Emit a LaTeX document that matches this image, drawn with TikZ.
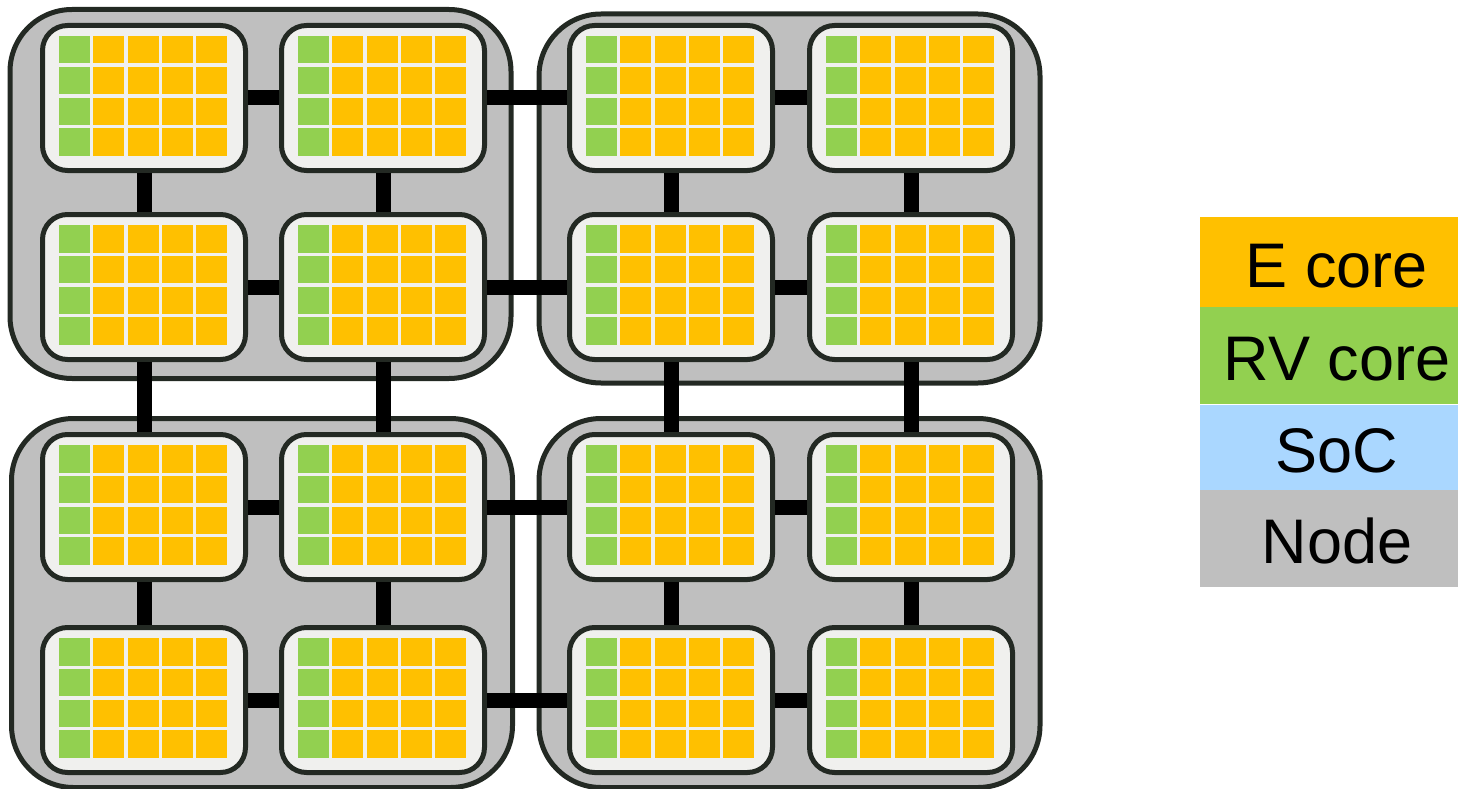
\documentclass[tikz,border=0pt]{standalone}
\usepackage{fontspec}
\setmainfont{Liberation Sans}
\definecolor{ECore}{RGB}{255,192,0}
\definecolor{RVCore}{RGB}{146,208,80}
\definecolor{SoCBlue}{RGB}{170,215,255}
\definecolor{NodeGray}{RGB}{191,191,191}
\definecolor{ChipFill}{RGB}{240,240,238}
\definecolor{EdgeDark}{RGB}{35,41,35}
\usetikzlibrary{positioning}

\begin{document}
\begin{tikzpicture}[x=1pt, y=-1pt,
    nodebox/.style={draw=EdgeDark, fill=NodeGray, line width=5pt, rounded corners=62pt, minimum width=501pt, minimum height=369pt, inner sep=0pt},
    chipbox/.style={draw=EdgeDark, fill=ChipFill, line width=5pt, rounded corners=25pt, minimum width=203pt, minimum height=145pt, inner sep=0pt},
    link/.style={line width=15pt, black},
    legendbox/.style={minimum width=274pt, inner sep=0pt, text height=50pt, text depth=0pt, font=\fontsize{63}{70}\selectfont}]
  \clip (0,0) rectangle (1458,789);
  % nodes
  \node[nodebox] (n1) at (260.5,194) {};
  \node[nodebox] (n2) at (789.5,198.5) {};
  \node[nodebox] (n3) at (262,603) {};
  \node[nodebox] (n4) at (789.5,603) {};
  % chips with 4x5 cores
  \foreach \r/\y in {1/98,2/287,3/507,4/700}
    \foreach \c/\x in {1/144,2/383,3/671,4/911} {
      \node[chipbox] (c\r\c) at (\x,\y) {};
      \begin{scope}[shift={(\x,\y)}]
        \foreach \i/\col in {0/RVCore,1/ECore,2/ECore,3/ECore,4/ECore}
          \foreach \j in {0,...,3}
            \fill[\col] (-85+34.3*\i,-62+30.8*\j) rectangle ++(31,27.5);
      \end{scope}
    }
  % mesh links
  \foreach \r in {1,...,4}
    \foreach \a/\b in {1/2,2/3,3/4}
      \draw[link] (c\r\a.east) -- (c\r\b.west);
  \foreach \c in {1,...,4}
    \foreach \a/\b in {1/2,2/3,3/4}
      \draw[link] (c\a\c.south) -- (c\b\c.north);
  % legend
  \node[legendbox, fill=ECore, minimum height=90pt] (legE) at (1337,262) {E core};
  \node[legendbox, fill=RVCore, minimum height=97pt, below=0pt of legE] (legRV) {RV core};
  \node[legendbox, fill=SoCBlue, minimum height=85pt, below=0pt of legRV] (legSoC) {SoC};
  \node[legendbox, fill=NodeGray, minimum height=97pt, below=0pt of legSoC] (legNode) {Node};
\end{tikzpicture}
\end{document}
